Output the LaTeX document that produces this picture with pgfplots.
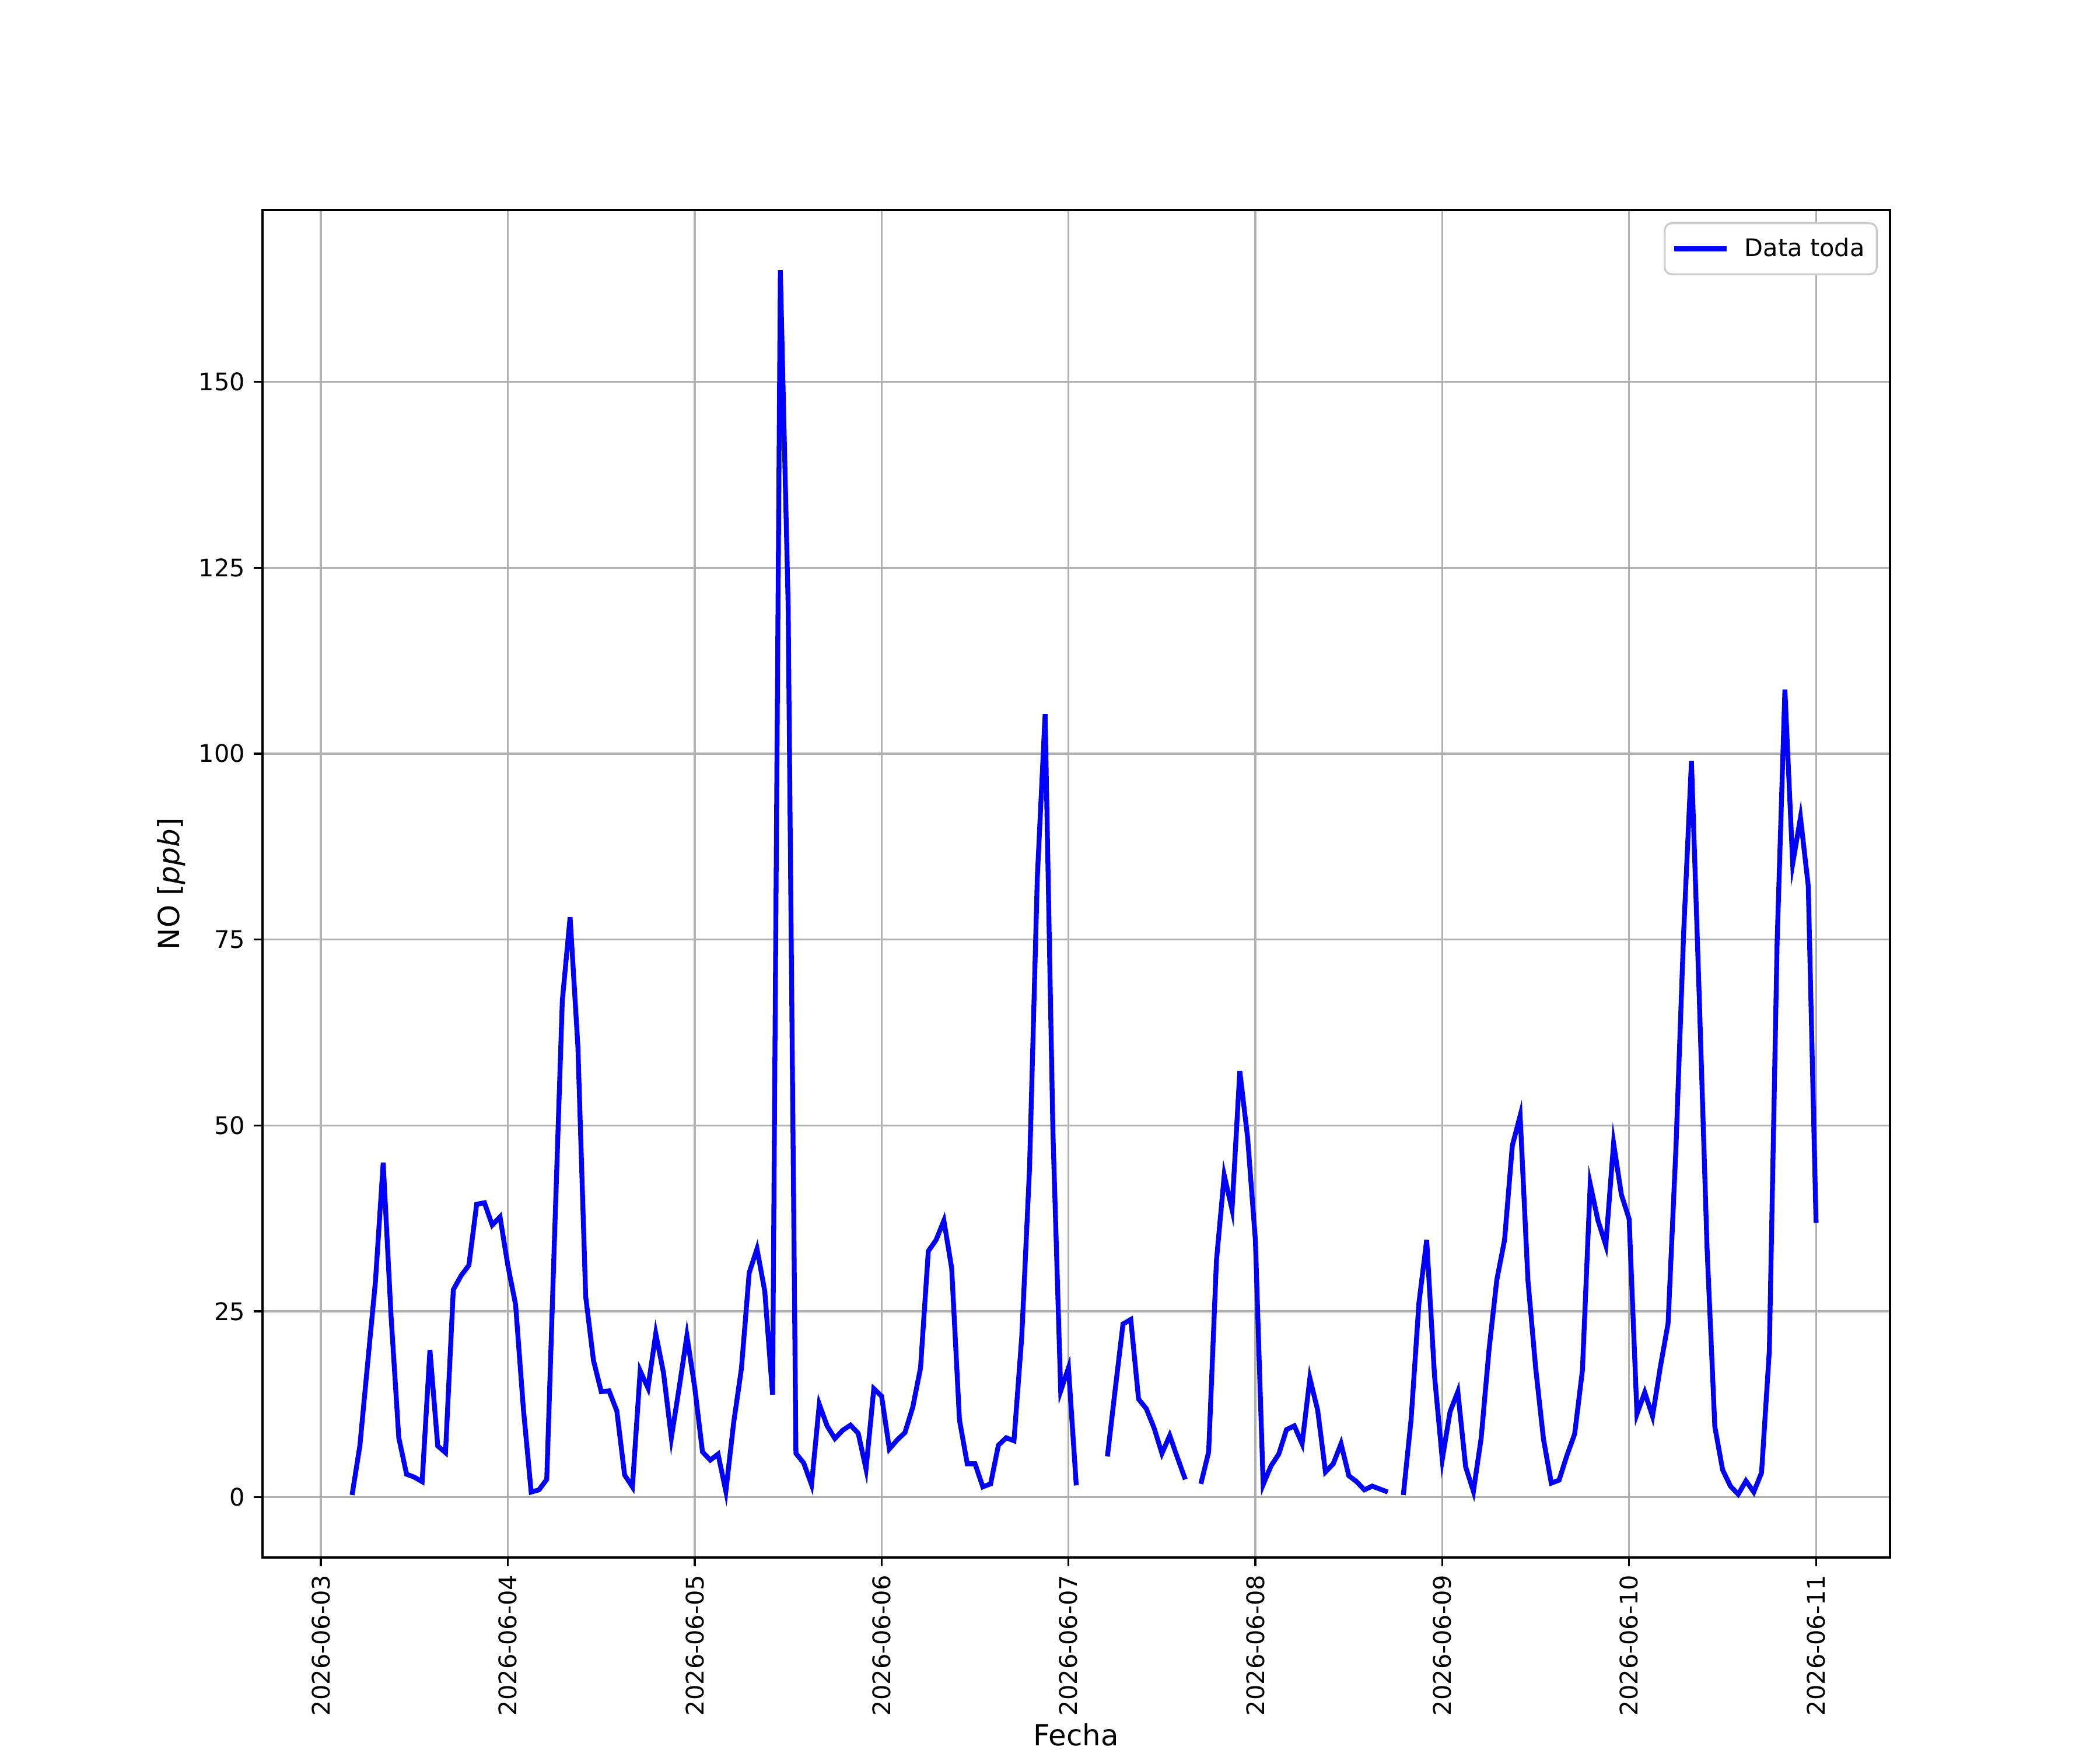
\documentclass[border=0pt]{standalone}
\usepackage{fontspec}
\setmainfont{DejaVu Sans}
\usepackage{pgfplots}
\pgfplotsset{compat=1.18}
\definecolor{gridgray}{HTML}{B0B0B0}
\definecolor{leggray}{HTML}{CCCCCC}
\begin{document}
\begin{tikzpicture}
\useasboundingbox (0,0) rectangle (12in,10in);
\begin{axis}[
  at={(1.5in,1.1in)}, anchor=south west,
  scale only axis, width=9.3in, height=7.7in,
  xmin=-7.5, xmax=201.5, ymin=-8.1, ymax=173.1,
  xtick={0,24,...,192},
  xticklabels={2026-06-03,2026-06-04,2026-06-05,2026-06-06,2026-06-07,2026-06-08,2026-06-09,2026-06-10,2026-06-11},
  ytick={0,25,...,150},
  /pgf/number format/assume math mode=true,
  ticklabel style={font=\fontsize{10}{12}\selectfont},
  xticklabel style={rotate=90, anchor=east, inner sep=0pt, xshift=-3.5pt},
  yticklabel style={anchor=east, inner sep=0pt, xshift=-3.5pt},
  tick align=outside, tick pos=left,
  major tick length=3.5pt,
  every tick/.style={black, line width=0.8pt},
  axis line style={line width=0.8pt},
  grid=major,
  major grid style={gridgray, line width=0.8pt},
  xlabel={Fecha},
  xlabel style={at={(axis description cs:0.5,0)}, anchor=base, yshift=-1.075in, font=\fontsize{12}{14}\selectfont},
  ylabel={NO [\textit{ppb}]},
  ylabel style={at={(axis description cs:0,0.5)}, anchor=center, rotate=0, yshift=0.52in, font=\fontsize{12}{14}\selectfont},
  unbounded coords=jump,
  legend style={at={(1,1)}, anchor=north east, xshift=-0.07in, yshift=-0.07in,
    draw=leggray, line width=0.8pt, rounded corners=3pt, fill=white,
    font=\fontsize{10}{12}\selectfont, inner xsep=3pt, inner ysep=4pt},
  legend cell align=left,
  legend image code/.code={\draw[#1, line width=2pt] (0in,0in) -- (0.3in,0in); \path (0.36in,0in);},
]
\addplot[color=blue, line width=2pt] coordinates {
(4,0.3) (5,6.9) (6,18) (7,29.0) (8,45.0) (9,24.5) (10,8.0) (11,3.1) (12,2.7) (13,2.1)
(14,19.8) (15,6.9) (16,6.0) (17,27.9) (18,29.8) (19,31.2) (20,39.4) (21,39.6) (22,36.6) (23,37.7)
(24,31.2) (25,25.9) (26,11.9) (27,0.7) (28,1.0) (29,2.4) (30,35) (31,66.8) (32,78.0) (33,60.6)
(34,27.0) (35,18.4) (36,14.2) (37,14.3) (38,11.6) (39,3.0) (40,1.4) (41,17.0) (42,14.7) (43,22.0)
(44,16.7) (45,8.0) (46,14.7) (47,21.7)
(48,14.8) (49,6.1) (50,5.0) (51,5.8) (52,0.8) (53,10.0) (54,17.3) (55,30.2) (56,33.4) (57,27.7)
(58,13.8) (59,165.0) (60,120.0) (61,5.9) (62,4.6) (63,1.7) (64,12.5) (65,9.6) (66,7.9) (67,9.0)
(68,9.7) (69,8.6) (70,3.8) (71,14.6)
(72,13.6) (73,6.5) (74,7.7) (75,8.7) (76,12.1) (77,17.4) (78,33.1) (79,34.6) (80,37.2) (81,30.8)
(82,10.4) (83,4.5) (84,4.5) (85,1.4) (86,1.8) (87,7.0) (88,8.0) (89,7.6) (90,21.6) (91,44.3)
(92,83.4) (93,105.3) (94,49.2) (95,14.3)
(96,17.4) (97,1.6) (98,nan) (99,nan) (100,nan) (101,5.5) (102,14.5) (103,23.3) (104,23.9) (105,13.2)
(106,11.9) (107,9.3) (108,5.9) (109,8.3) (110,5.3) (111,2.4) (112,nan) (113,1.8) (114,6.1) (115,31.8)
(116,43.3) (117,38.7) (118,57.3) (119,48.4)
(120,34.6) (121,1.7) (122,4.2) (123,5.8) (124,9.1) (125,9.6) (126,7.2) (127,16.0) (128,11.7) (129,3.4)
(130,4.5) (131,7.2) (132,2.9) (133,2.1) (134,1.0) (135,1.5) (136,1.1) (137,0.7) (138,nan) (139,0.3)
(140,10.5) (141,26.1) (142,34.6) (143,16.4)
(144,5.1) (145,11.5) (146,14.2) (147,4.1) (148,0.8) (149,8.0) (150,19.8) (151,29.2) (152,34.6) (153,47.3)
(154,51.3) (155,29.2) (156,17.3) (157,7.8) (158,1.9) (159,2.3) (160,5.6) (161,8.5) (162,17.1) (163,42.1)
(164,37.2) (165,33.9) (166,47.6) (167,40.7)
(168,37.4) (169,11.2) (170,14.1) (171,10.9) (172,17.5) (173,23.4) (174,46.8) (175,76.0) (176,99.0) (177,67.3)
(178,33.6) (179,9.5) (180,3.7) (181,1.5) (182,0.4) (183,2.2) (184,0.7) (185,3.3) (186,19.7) (187,74.6)
(188,108.6) (189,85.2) (190,91.4) (191,82.2) (192,36.9)
};
\addlegendentry{Data toda}
\end{axis}
\end{tikzpicture}
\end{document}
